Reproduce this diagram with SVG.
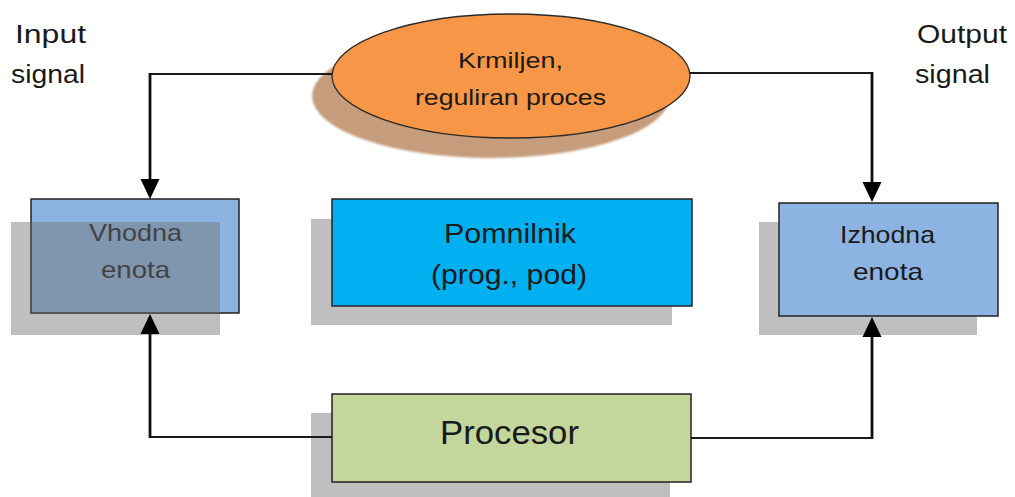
<svg xmlns="http://www.w3.org/2000/svg" width="1015" height="497" viewBox="0 0 1015 497">
  <style>
    .lbl { font-family: "Liberation Sans", Arial, sans-serif; fill: #1a1a1a; text-anchor: middle; }
    .side { font-family: "Liberation Sans", Arial, sans-serif; fill: #1a1a1a; font-size: 26px; }
    .shadow { fill: #bfbfbf; }
    .box { stroke: #222; stroke-width: 1.5; }
    .wire { fill: none; stroke: #1a1a1a; stroke-width: 1.8; }
    .wire-v { fill: none; stroke: #111; stroke-width: 2.8; }
    .head { fill: #000; }
  </style>
  <defs>
    <filter id="soft" x="-10%" y="-20%" width="120%" height="140%">
      <feGaussianBlur stdDeviation="1"/>
    </filter>
  </defs>

  <rect width="1015" height="497" fill="#fff"/>

  <!-- side captions -->
  <g id="input-signal">
    <text class="side" x="15" y="43" textLength="71" lengthAdjust="spacingAndGlyphs">Input</text>
    <text class="side" x="11" y="83" textLength="74" lengthAdjust="spacingAndGlyphs">signal</text>
  </g>
  <g id="output-signal">
    <text class="side" x="917" y="43" textLength="90" lengthAdjust="spacingAndGlyphs">Output</text>
    <text class="side" x="915" y="83" textLength="75" lengthAdjust="spacingAndGlyphs">signal</text>
  </g>

  <!-- controlled process -->
  <g id="process">
    <ellipse cx="491" cy="96" rx="179" ry="62" fill="#c69d7b" filter="url(#soft)"/>
    <ellipse cx="511" cy="76" rx="179" ry="62" fill="#f79646" stroke="#2a2a2a" stroke-width="1.3"/>
    <text class="lbl" x="510.5" y="68" font-size="22" textLength="105" lengthAdjust="spacingAndGlyphs">Krmiljen,</text>
    <text class="lbl" x="510.5" y="105" font-size="22" textLength="191" lengthAdjust="spacingAndGlyphs">reguliran proces</text>
  </g>

  <!-- input unit (shadow overlaps the box) -->
  <g id="input-unit">
    <rect class="shadow" x="11" y="222" width="209" height="113"/>
    <rect class="box" x="31" y="199" width="208" height="114" fill="#8db3e2"/>
    <text class="lbl" x="135.5" y="241" font-size="24" textLength="93" lengthAdjust="spacingAndGlyphs">Vhodna</text>
    <text class="lbl" x="135.5" y="278" font-size="24" textLength="69" lengthAdjust="spacingAndGlyphs">enota</text>
    <rect x="30.5" y="222" width="189.5" height="91.5" fill="#717171" fill-opacity="0.46"/>
  </g>

  <!-- memory -->
  <g id="memory">
    <rect class="shadow" x="311" y="219" width="361" height="106"/>
    <rect class="box" x="332" y="199" width="360" height="107" fill="#00b0f0"/>
    <text class="lbl" x="510" y="243" font-size="28" textLength="132" lengthAdjust="spacingAndGlyphs">Pomnilnik</text>
    <text class="lbl" x="509" y="284" font-size="28" textLength="156" lengthAdjust="spacingAndGlyphs">(prog., pod)</text>
  </g>

  <!-- output unit -->
  <g id="output-unit">
    <rect class="shadow" x="759" y="222" width="218" height="113"/>
    <rect class="box" x="779" y="203" width="219" height="113" fill="#8db3e2"/>
    <text class="lbl" x="887.5" y="243" font-size="24" textLength="95" lengthAdjust="spacingAndGlyphs">Izhodna</text>
    <text class="lbl" x="888" y="280" font-size="24" textLength="70" lengthAdjust="spacingAndGlyphs">enota</text>
  </g>

  <!-- processor -->
  <g id="processor">
    <rect class="shadow" x="311" y="413" width="359" height="84"/>
    <rect class="box" x="332" y="394" width="359" height="88" fill="#c3d69b"/>
    <text class="lbl" x="509.5" y="444" font-size="33" textLength="139" lengthAdjust="spacingAndGlyphs">Procesor</text>
  </g>

  <!-- connectors: thin horizontal runs, heavier vertical drops ending in filled heads -->
  <g id="connectors">
    <path class="wire" d="M332,74 H150"/>
    <path class="wire-v" d="M150,73 V181"/>
    <polygon class="head" points="140.5,179 159.5,179 150,199"/>

    <path class="wire" d="M690,73 H872"/>
    <path class="wire-v" d="M872,72 V184"/>
    <polygon class="head" points="862.5,182 881.5,182 872,202"/>

    <path class="wire" d="M332,437 H150"/>
    <path class="wire-v" d="M150,438 V332"/>
    <polygon class="head" points="140.5,334 159.5,334 150,314"/>

    <path class="wire" d="M691,438 H872"/>
    <path class="wire-v" d="M872,439 V335"/>
    <polygon class="head" points="862.5,337 881.5,337 872,317"/>
  </g>
</svg>
